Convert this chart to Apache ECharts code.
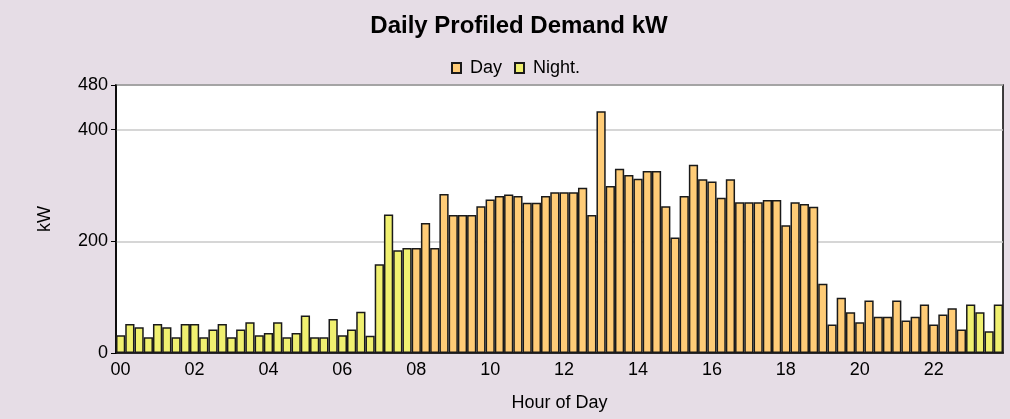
<!DOCTYPE html>
<html>
<head>
<meta charset="utf-8">
<script src="https://cdn.jsdelivr.net/npm/echarts@6/dist/echarts.min.js"></script>
<style>
html,body{margin:0;padding:0;background:#E6DDE6;}
#c{width:1010px;height:419px;}
</style>
</head>
<body>
<div id="c"></div>
<script>
// 15-minute interval categories 00:00 .. 23:45
const hours = ["00","01","02","03","04","05","06","07","08","09","10","11","12","13","14","15","16","17","18","19","20","21","22","23"];
const quarters = ["00","15","30","45"];
const categories = [];
hours.forEach(h => quarters.forEach(q => categories.push(h + ":" + q)));

// Night values 00:00 - 07:45
const nightMorning = [32,52,46,28,52,46,28,52,52,28,42,52,28,42,55,32,36,55,28,36,67,28,28,61,32,42,74,31,159,248,184,188];
// Day values 08:00 - 22:45
const dayValues = [188,233,188,285,247,247,247,263,275,281,284,281,269,269,281,288,288,288,296,247,433,299,330,319,312,326,326,263,207,281,337,
  311,307,278,311,270,270,270,274,274,229,270,267,262,124,51,99,73,55,94,65,65,94,58,65,87,51,69,80,42];
// Night values 23:00 - 23:45
const nightEvening = [87,73,39,87];

const yTicks = [0,200,400,480];

const daySeries = categories.map((c, i) => (i >= 32 && i < 92) ? dayValues[i - 32] : null);
const nightSeries = categories.map((c, i) => i < 32 ? nightMorning[i] : (i >= 92 ? nightEvening[i - 92] : null));

const FONT = "'Liberation Sans', Arial, sans-serif";
const chart = echarts.init(document.getElementById('c'));
chart.setOption({
  backgroundColor: '#E6DDE6',
  animation: false,
  textStyle: {fontFamily: FONT},
  title: {
    text: 'Daily Profiled Demand kW',
    left: 514, top: 9, textAlign: 'center',
    textStyle: {fontFamily: FONT, fontSize: 24, fontWeight: 'bold', color: '#000'}
  },
  legend: {
    data: ['Day', 'Night.'],
    left: 446, top: 54,
    itemWidth: 9, itemHeight: 10, itemGap: 12,
    icon: 'rect',
    textStyle: {fontFamily: FONT, fontSize: 18, color: '#000', padding: [0, 0, 0, 4]}
  },
  grid: {
    left: 116, right: 7, top: 85, bottom: 66,
    show: true, backgroundColor: '#fff', borderColor: '#000', borderWidth: 1.5
  },
  xAxis: {
    type: 'category',
    data: categories,
    boundaryGap: true,
    name: 'Hour of Day',
    nameLocation: 'middle',
    nameGap: 41,
    nameTextStyle: {fontFamily: FONT, fontSize: 18, color: '#000'},
    axisLine: {lineStyle: {color: '#000', width: 1.5}},
    axisTick: {show: false},
    axisLabel: {
      interval: 7,
      formatter: v => v.slice(0, 2),
      color: '#000', fontFamily: FONT, fontSize: 18, margin: 8
    },
    splitLine: {show: false}
  },
  yAxis: {
    type: 'value',
    min: 0, max: 480,
    name: 'kW',
    nameLocation: 'middle',
    nameGap: 62,
    nameRotate: 90,
    nameTextStyle: {fontFamily: FONT, fontSize: 18, color: '#000'},
    axisLine: {show: true, lineStyle: {color: '#000', width: 1.5}},
    axisTick: {show: true, length: 5, customValues: yTicks, lineStyle: {color: '#000'}},
    axisLabel: {customValues: yTicks, color: '#000', fontFamily: FONT, fontSize: 18, margin: 8},
    interval: 200,
    splitLine: {show: true, lineStyle: {color: '#C8C8C8', width: 1.5}}
  },
  series: [
    {
      name: 'Day', type: 'bar', stack: 'all', data: daySeries,
      barWidth: '100%', barCategoryGap: '0%', barGap: '0%',
      itemStyle: {color: '#FFCC77', borderColor: '#1a1a1a', borderWidth: 1.5}
    },
    {
      name: 'Night.', type: 'bar', stack: 'all', data: nightSeries,
      barWidth: '100%', barCategoryGap: '0%', barGap: '0%',
      itemStyle: {color: '#F0F070', borderColor: '#1a1a1a', borderWidth: 1.5}
    }
  ]
});
</script>
</body>
</html>
